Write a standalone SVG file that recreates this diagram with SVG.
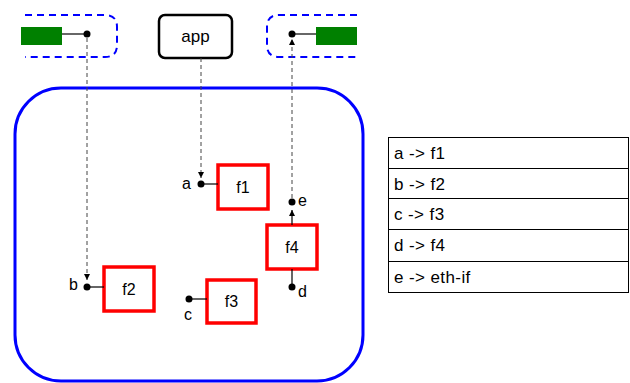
<svg xmlns="http://www.w3.org/2000/svg" width="630" height="383" viewBox="0 0 630 383">
<style>
text{font-family:"Liberation Sans",Arial,sans-serif;fill:#000}
.lbl{font-size:16px}
.row{font-size:17px;letter-spacing:0.4px}
.fn{fill:#fff;stroke:#ff0000;stroke-width:3.5}
.dash{fill:none;stroke:#444;stroke-width:1;stroke-dasharray:4 3}
.solid{stroke:#000;stroke-width:1.2}
.port{fill:#000}
.iface{fill:none;stroke:#0000ff;stroke-width:2;stroke-dasharray:7 5}
.green{fill:#008000}
</style>
<defs>
<marker id="ah" markerWidth="8" markerHeight="8" refX="6" refY="4" orient="auto" markerUnits="userSpaceOnUse">
<path d="M0,1 L6,4 L0,7 Z" fill="#000"/>
</marker>
</defs>
<rect x="0" y="0" width="630" height="383" fill="#fff"/>
<g id="container">
<rect x="15" y="88" width="348" height="293" rx="46" ry="46" fill="none" stroke="#0000ff" stroke-width="3"/>
</g>
<g id="eth-in">
<path class="iface" d="M25,15 H105 Q117,15 117,27 V45 Q117,57 105,57 H25"/>
<rect class="green" x="21" y="27" width="41" height="18"/>
<line class="solid" x1="62" y1="34" x2="87" y2="34"/>
<circle class="port" cx="87" cy="34" r="3.5"/>
</g>
<g id="eth-out">
<path class="iface" d="M357,15 H279 Q267,15 267,27 V45 Q267,57 279,57 H357"/>
<rect class="green" x="316" y="27" width="41" height="18"/>
<line class="solid" x1="292" y1="34" x2="316" y2="34"/>
<circle class="port" cx="292" cy="34" r="3.5"/>
</g>
<g id="app">
<rect x="159" y="15" width="73" height="43" rx="6" fill="#fff" stroke="#000" stroke-width="2.5"/>
<text x="195.5" y="42" font-size="17" text-anchor="middle">app</text>
</g>
<g id="f1">
<rect class="fn" x="218" y="165" width="50" height="44"/>
<text class="lbl" x="243" y="193" text-anchor="middle">f1</text>
<line class="solid" x1="201" y1="184" x2="218" y2="184"/>
<circle class="port" cx="201" cy="184" r="3.5"/>
<text class="lbl" x="182" y="189">a</text>
</g>
<g id="f2">
<rect class="fn" x="104" y="267" width="50" height="44"/>
<text class="lbl" x="129" y="295" text-anchor="middle">f2</text>
<line class="solid" x1="87" y1="287" x2="104" y2="287"/>
<circle class="port" cx="87" cy="287" r="3.5"/>
<text class="lbl" x="69" y="290">b</text>
</g>
<g id="f3">
<rect class="fn" x="207" y="280" width="49" height="43"/>
<text class="lbl" x="231.5" y="307" text-anchor="middle">f3</text>
<line class="solid" x1="189" y1="299" x2="207" y2="299"/>
<circle class="port" cx="189" cy="299" r="3.5"/>
<text class="lbl" x="184" y="320">c</text>
</g>
<g id="f4">
<rect class="fn" x="267" y="225" width="50" height="44"/>
<text class="lbl" x="292" y="253" text-anchor="middle">f4</text>
<line class="solid" x1="292" y1="269" x2="292" y2="287"/>
<circle class="port" cx="292" cy="287" r="3.5"/>
<text class="lbl" x="298" y="297">d</text>
<circle class="port" cx="292" cy="202" r="3.5"/>
<text class="lbl" x="298" y="206">e</text>
</g>
<g id="connectors">
<line class="dash" x1="87" y1="38" x2="87" y2="280" marker-end="url(#ah)"/>
<line class="dash" x1="201" y1="58" x2="201" y2="178" marker-end="url(#ah)"/>
<line class="dash" x1="292" y1="198" x2="292" y2="39" marker-end="url(#ah)"/>
<line class="solid" x1="292" y1="225" x2="292" y2="210" marker-end="url(#ah)"/>
</g>
<g id="table">
<rect x="388.5" y="137.5" width="240" height="155" fill="#fff" stroke="#000" stroke-width="1"/>
<line x1="388.5" y1="168.5" x2="628.5" y2="168.5" stroke="#000"/>
<line x1="388.5" y1="198.5" x2="628.5" y2="198.5" stroke="#000"/>
<line x1="388.5" y1="229.5" x2="628.5" y2="229.5" stroke="#000"/>
<line x1="388.5" y1="261.5" x2="628.5" y2="261.5" stroke="#000"/>
<text class="row" x="394" y="159">a -&gt; f1</text>
<text class="row" x="394" y="190">b -&gt; f2</text>
<text class="row" x="394" y="220">c -&gt; f3</text>
<text class="row" x="394" y="251">d -&gt; f4</text>
<text class="row" x="394" y="283">e -&gt; eth-if</text>
</g>
</svg>
